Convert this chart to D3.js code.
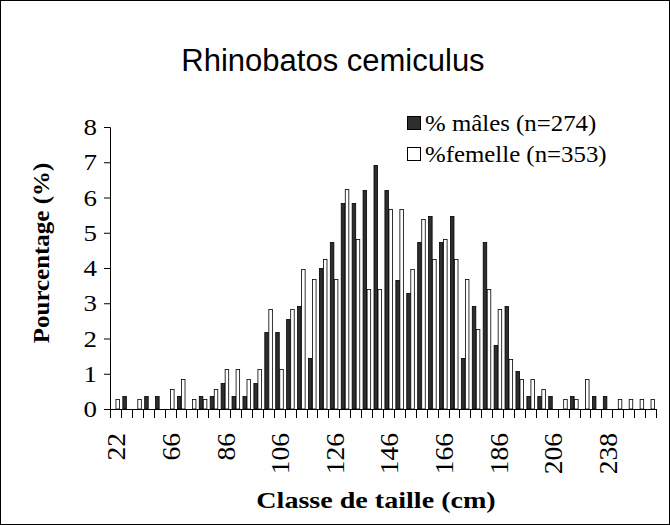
<!DOCTYPE html>
<html>
<head>
<meta charset="utf-8">
<script src="https://cdn.jsdelivr.net/npm/d3@7"></script>
<style>
  body { margin: 0; background: #fff; }
  svg text { fill: #000; }
</style>
</head>
<body>
<div id="chart"></div>
<script>
// size classes (cm), only every 5th one is labelled on the axis
const classes = [22, 30, 42, 50, 62, 66, 70, 74, 78, 82,
  86, 90, 94, 98, 102, 106, 110, 114, 118, 122,
  126, 130, 134, 138, 142, 146, 150, 154, 158, 162,
  166, 170, 174, 178, 182, 186, 190, 194, 198, 202,
  206, 210, 218, 226, 230, 238, 242, 250, 262, 270]

const males = [0, 0.36, 0, 0.36, 0.36, 0, 0.36, 0, 0.36, 0.36,
  0.73, 0.36, 0.36, 0.73, 2.19, 2.19, 2.55, 2.92, 1.46, 4.01,
  4.74, 5.84, 5.84, 6.2, 6.93, 6.2, 3.65, 3.28, 4.74, 5.47,
  4.74, 5.47, 1.46, 2.92, 4.74, 1.82, 2.92, 1.09, 0.36, 0.36,
  0.36, 0, 0.36, 0, 0.36, 0.36, 0, 0, 0, 0]

const femelles = [0.28, 0, 0.28, 0, 0, 0.57, 0.85, 0.28, 0.28, 0.57,
  1.13, 1.13, 0.85, 1.13, 2.83, 1.13, 2.83, 3.97, 3.68, 4.25,
  3.68, 6.23, 4.82, 3.4, 3.4, 5.67, 5.67, 3.97, 5.38, 4.25,
  4.82, 4.25, 3.68, 2.27, 3.4, 2.83, 1.42, 0.85, 0.85, 0.57,
  0, 0.28, 0.28, 0.85, 0, 0, 0.28, 0.28, 0.28, 0.28]

const series = ['% mâles (n=274)', '%femelle (n=353)']
const yTicks = [0, 1, 2, 3, 4, 5, 6, 7, 8]

const width = 670
const height = 525
const margin = { top: 127, right: 14, bottom: 116, left: 110 }
const serif = '"Liberation Serif", "Times New Roman", serif'

// the original text is a bit wider than Liberation Serif, stretch it
const stretch = (sel, k) => {
  sel.each(function () {
    const len = this.getComputedTextLength()
    d3.select(this)
      .attr('textLength', len * k)
      .attr('lengthAdjust', 'spacingAndGlyphs')
  })
}

const svg = d3.select('#chart').append('svg')
  .attr('width', width)
  .attr('height', height)

// outer frame
svg.append('rect')
  .attr('x', 0.5).attr('y', 0.5)
  .attr('width', width - 1).attr('height', height - 1)
  .attr('fill', '#fff').attr('stroke', '#000')

const x = d3.scaleBand()
  .domain(classes)
  .range([margin.left, width - margin.right])
  .paddingInner(0.26)
  .paddingOuter(0.13)

const xs = d3.scaleBand()
  .domain(series)
  .range([0, x.bandwidth()])

const y = d3.scaleLinear()
  .domain([0, 8])
  .range([height - margin.bottom, margin.top])

const rows = classes.map((c, i) => ({ c, vals: [males[i], femelles[i]] }))

const groups = svg.append('g').selectAll('g')
  .data(rows)
  .join('g')
  .attr('transform', d => `translate(${x(d.c)},0)`)

groups.selectAll('rect')
  .data(d => d.vals.map((v, j) => ({ s: series[j], v })).filter(e => e.v > 0))
  .join('rect')
  .attr('x', e => xs(e.s) + 0.5)
  .attr('y', e => Math.round(y(e.v)) + 0.5)
  .attr('width', xs.bandwidth() - 0.5)
  .attr('height', e => y(0) - Math.round(y(e.v)) - 0.5)
  .attr('fill', e => e.s === series[0] ? '#2e2e2e' : '#fff')
  .attr('stroke', '#000')
  .attr('stroke-width', 0.8)

// y axis
const yAxis = svg.append('g')
  .attr('transform', `translate(${margin.left},0)`)
  .call(d3.axisLeft(y).tickValues(yTicks).tickSize(6).tickPadding(7))
yAxis.selectAll('text')
  .attr('font-family', serif)
  .attr('font-size', 24)
  .call(stretch, 1.12)
yAxis.selectAll('path, line').attr('stroke', '#000')

// x axis: line, boundary ticks, rotated labels every 5th class
const x0 = y(0)
svg.append('line')
  .attr('x1', margin.left).attr('x2', width - margin.right)
  .attr('y1', x0 + 0.5).attr('y2', x0 + 0.5)
  .attr('stroke', '#000')

const bounds = d3.range(classes.length + 1).map(i => margin.left + i * x.step())
svg.append('g').selectAll('line')
  .data(bounds)
  .join('line')
  .attr('x1', d => Math.round(d) + 0.5).attr('x2', d => Math.round(d) + 0.5)
  .attr('y1', x0).attr('y2', x0 + 9)
  .attr('stroke', '#000')

svg.append('g').selectAll('text')
  .data(classes.filter((c, i) => i % 5 === 0))
  .join('text')
  .attr('transform', d => `translate(${x(d) + x.bandwidth() / 2 + 10},${x0 + 24}) rotate(-90)`)
  .attr('text-anchor', 'end')
  .attr('font-family', serif)
  .attr('font-size', 26)
  .text(d => d)
  .call(stretch, 1.06)

// titles
svg.append('text')
  .attr('x', 333).attr('y', 71)
  .attr('text-anchor', 'middle')
  .attr('font-family', '"Liberation Sans", Arial, sans-serif')
  .attr('font-size', 31)
  .text('Rhinobatos cemiculus')

svg.append('text')
  .attr('transform', 'translate(49,253) rotate(-90)')
  .attr('text-anchor', 'middle')
  .attr('font-family', serif)
  .attr('font-weight', 'bold')
  .attr('font-size', 24)
  .text('Pourcentage (%)')
  .call(stretch, 1.04)

svg.append('text')
  .attr('x', 376).attr('y', 508)
  .attr('text-anchor', 'middle')
  .attr('font-family', serif)
  .attr('font-weight', 'bold')
  .attr('font-size', 24)
  .text('Classe de taille (cm)')
  .call(stretch, 1.17)

// legend
const legend = svg.append('g').selectAll('g')
  .data(series)
  .join('g')
  .attr('transform', (d, i) => `translate(407,${116 + i * 31})`)

legend.append('rect')
  .attr('x', 0.5).attr('y', 0.5)
  .attr('width', 13).attr('height', 13)
  .attr('fill', (d, i) => i === 0 ? '#2e2e2e' : '#fff')
  .attr('stroke', '#000')

legend.append('text')
  .attr('x', 18).attr('y', 15)
  .attr('font-family', serif)
  .attr('font-size', 23)
  .text(d => d)
  .call(stretch, 1.08)
</script>
</body>
</html>
